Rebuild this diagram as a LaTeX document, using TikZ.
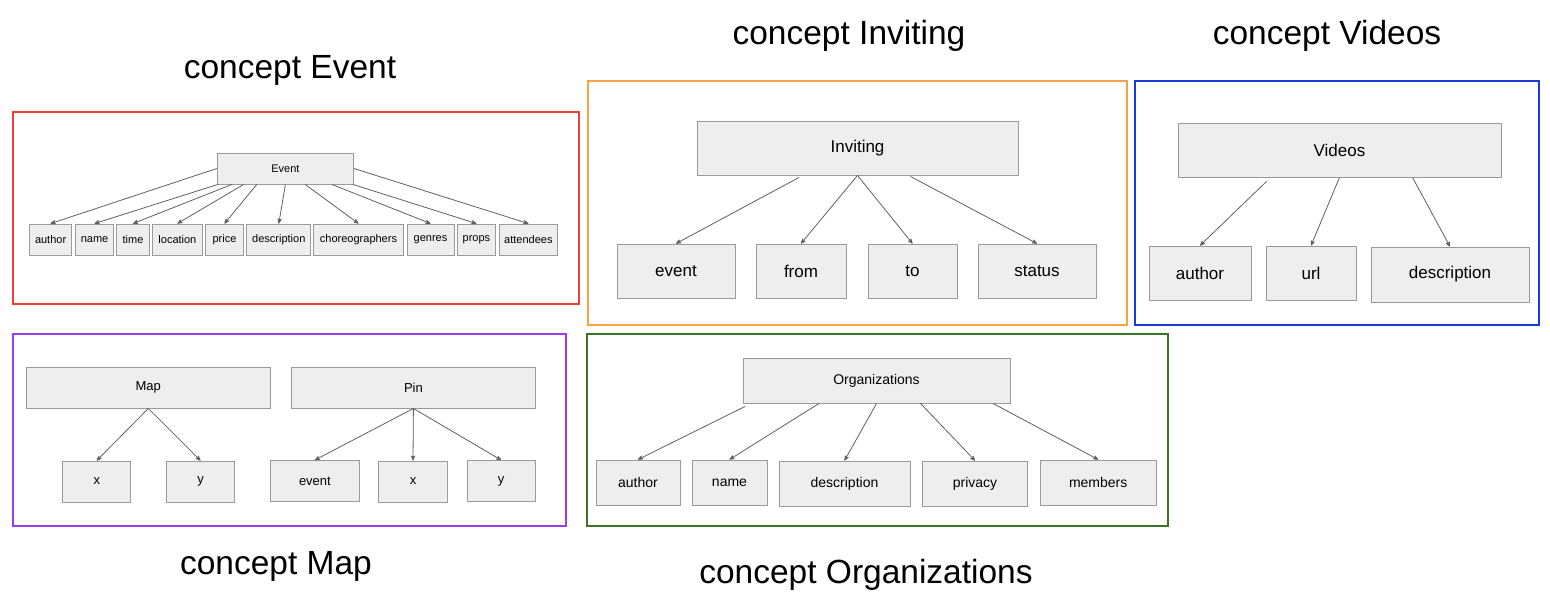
\documentclass[tikz,border=0pt]{standalone}
\usepackage{xcolor}
\usepackage{fontspec}
\setmainfont{Liberation Sans}
\usepackage{tikz}
\usetikzlibrary{arrows}

\definecolor{boxfill}{HTML}{EEEEEE}
\definecolor{boxline}{HTML}{9A9A9A}
\definecolor{arrowline}{HTML}{606060}
\definecolor{evred}{HTML}{EA4335}
\definecolor{invorange}{HTML}{F6A443}
\definecolor{vidblue}{HTML}{1C3AD9}
\definecolor{mappurple}{HTML}{9A3CF2}
\definecolor{orggreen}{HTML}{3D7423}

\begin{document}
\begin{tikzpicture}[x=1pt,y=-1pt,->,>=stealth',thin,
    field/.style={rectangle,fill=boxfill,draw=boxline,line width=0.9pt,inner sep=0pt},
    link/.style={draw=arrowline,line width=0.8pt},
    frame/.style={-,line width=1.6pt},
    title/.style={font=\fontsize{33.5}{38}\selectfont},
    evbox/.style={field,minimum height=31,font=\fontsize{11}{13}\selectfont},
    invbox/.style={field,minimum height=54,font=\fontsize{17}{20}\selectfont},
    mapbox/.style={field,minimum height=41,font=\fontsize{13}{15}\selectfont},
    orgbox/.style={field,minimum height=45,font=\fontsize{14}{17}\selectfont}]
    \useasboundingbox (0,0) rectangle (1550,598);

    % frames and titles
    \draw[frame,evred] (13,112) rectangle (579,304);
    \draw[frame,invorange] (588,81) rectangle (1127,325);
    \draw[frame,vidblue] (1135,81) rectangle (1539,325);
    \draw[frame,mappurple] (13,334) rectangle (566,526);
    \draw[frame,orggreen] (587,334) rectangle (1168,526);
    \node[title] (tev) at (290,70) {concept Event};
    \node[title] (tinv) at (849,36) {concept Inviting};
    \node[title] (tvid) at (1327,36) {concept Videos};
    \node[title] (tmap) at (276,566) {concept Map};
    \node[title] (torg) at (866,575) {concept Organizations};

    % Event
    \node[evbox,minimum width=136.3] (event) at (285.4,168.5) {Event};
    \node[evbox,minimum width=42.2] (ev1) at (50.6,239.5) {author};
    \node[evbox,minimum width=38.5] (ev2) at (94.55,239.5) {name};
    \node[evbox,minimum width=33.3] (ev3) at (133,239.5) {time};
    \node[evbox,minimum width=50.2] (ev4) at (177.4,239.5) {location};
    \node[evbox,minimum width=38.2] (ev5) at (224.5,239.5) {price};
    \node[evbox,minimum width=63.8] (ev6) at (278.8,239.5) {description};
    \node[evbox,minimum width=89.8] (ev7) at (358.5,239.5) {choreographers};
    \node[evbox,minimum width=47] (ev8) at (430.5,239.5) {genres};
    \node[evbox,minimum width=38.1] (ev9) at (476.4,239.5) {props};
    \node[evbox,minimum width=58.6] (ev10) at (528.4,239.5) {attendees};

    \path[every edge/.style=link]
      (event.west) edge (ev1.north)
      ([xshift=1]event.south west) edge (ev2.north)
      ([xshift=-53.5]event.south) edge (ev3.north)
      ([xshift=-41.8]event.south) edge (ev4.north)
      ([xshift=-28.6]event.south) edge (ev5.north)
      (event.south) edge (ev6.north)
      ([xshift=19.8]event.south) edge (ev7.north)
      ([xshift=46.5]event.south) edge (ev8.north)
      ([xshift=-1]event.south east) edge (ev9.north)
      (event.east) edge (ev10.north);

    % Inviting
    \node[invbox,minimum width=321] (inviting) at (857.5,148) {Inviting};
    \node[invbox,minimum width=118] (inv1) at (676,271) {event};
    \node[invbox,minimum width=90] (inv2) at (801,271) {from};
    \node[invbox,minimum width=89] (inv3) at (912.5,271) {to};
    \node[invbox,minimum width=118] (inv4) at (1037,271) {status};

    \path[every edge/.style=link]
      ([xshift=-58.5,yshift=-2]inviting.south) edge (inv1.north)
      (inviting.south) edge (inv2.north)
      (inviting.south) edge (inv3.north)
      ([xshift=53,yshift=-1]inviting.south) edge (inv4.north);

    % Videos
    \node[invbox,minimum width=323] (videos) at (1339.5,150) {Videos};
    \node[invbox,minimum width=102] (vid1) at (1200,273) {author};
    \node[invbox,minimum width=90] (vid2) at (1311,273) {url};
    \node[invbox,minimum width=158,minimum height=55] (vid3) at (1450,274.5) {description};

    \path[every edge/.style=link]
      ([xshift=-73,yshift=-4]videos.south) edge (vid1.north)
      (videos.south) edge (vid2.north)
      ([xshift=73]videos.south) edge (vid3.north);

    % Map and Pin
    \node[mapbox,minimum width=244.5] (map) at (148.3,387.5) {Map};
    \node[mapbox,minimum width=243.6] (pin) at (413.4,387.5) {Pin};
    \node[mapbox,minimum width=68.3] (map1) at (96.75,481.5) {x};
    \node[mapbox,minimum width=68.3] (map2) at (200.5,481.5) {y};
    \node[mapbox,minimum width=89.5] (pin1) at (314.9,481) {event};
    \node[mapbox,minimum width=68.3] (pin2) at (413,481.5) {x};
    \node[mapbox,minimum width=68] (pin3) at (501.2,481) {y};

    \path[every edge/.style=link]
      (map.south) edge (map1.north)
      (map.south) edge (map2.north)
      (pin.south) edge (pin1.north)
      (pin.south) edge (pin2.north)
      (pin.south) edge (pin3.north);

    % Organizations
    \node[orgbox,minimum width=267] (org) at (876.5,380.5) {Organizations};
    \node[orgbox,minimum width=84] (org1) at (638,482.5) {author};
    \node[orgbox,minimum width=75] (org2) at (729.5,482.5) {name};
    \node[orgbox,minimum width=131] (org3) at (844.5,483.5) {description};
    \node[orgbox,minimum width=105] (org4) at (975,483.5) {privacy};
    \node[orgbox,minimum width=116.4] (org5) at (1098.2,482.5) {members};

    \path[every edge/.style=link]
      ([xshift=-131.5,yshift=-3]org.south) edge (org1.north)
      ([xshift=-57.5]org.south) edge (org2.north)
      (org.south) edge (org3.north)
      ([xshift=44]org.south) edge (org4.north)
      ([xshift=116.5]org.south) edge (org5.north);
\end{tikzpicture}
\end{document}
